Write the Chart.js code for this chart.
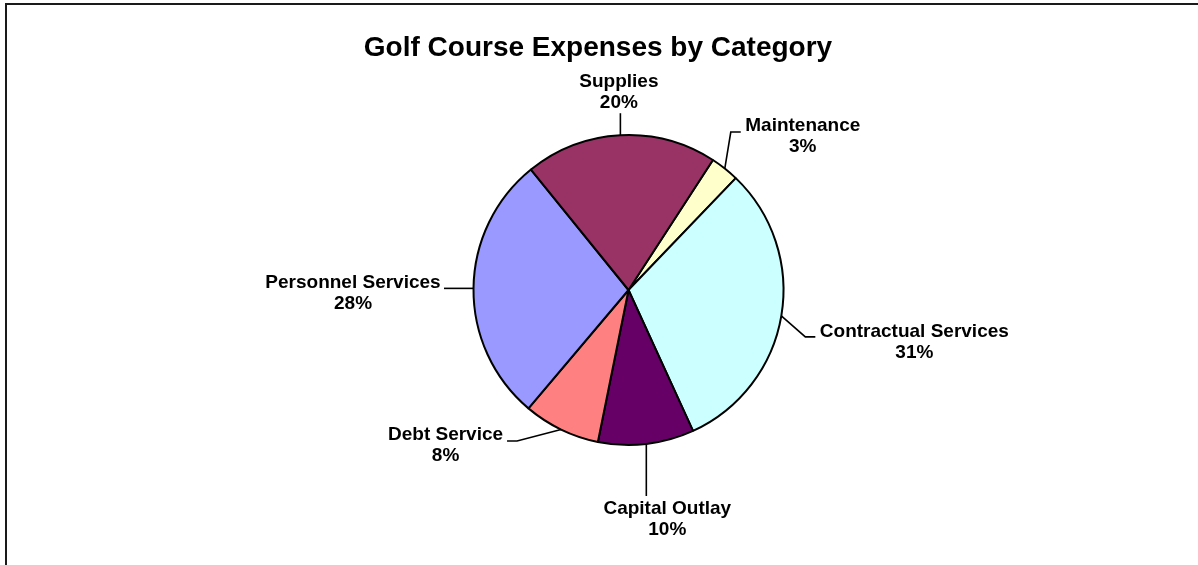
<!DOCTYPE html>
<html>
<head>
<meta charset="utf-8">
<title>Golf Course Expenses by Category</title>
<script src="https://cdn.jsdelivr.net/npm/chart.js@4"></script>
<style>
  html, body { margin: 0; padding: 0; background: #fff; }
  #wrap { position: relative; width: 1198px; height: 565px; }
</style>
</head>
<body>
<div id="wrap"><canvas id="chart"></canvas></div>
<script>
  // chart data
  const chartTitle = 'Golf Course Expenses by Category';
  const categories = ['Maintenance', 'Contractual Services', 'Capital Outlay', 'Debt Service', 'Personnel Services', 'Supplies'];
  const shares = [3, 31, 10, 8, 28, 20];

  const sliceColors = ['#FFFFCC', '#CCFFFF', '#660066', '#FF8080', '#9999FF', '#993366'];
  const FONT = "'Liberation Sans', Arial, sans-serif";

  // label placement, relative to the point where the slice's mid-angle meets the rim
  // path: leader vertices after the rim point; text: centre of the two-line label
  const labelPlacement = [
    { path: [[6, -36.5], [16, -36.5]],   text: [78, -32] },     // Maintenance
    { path: [[24, 21], [34, 21]],        text: [133, 26] },     // Contractual Services
    { path: [[0, 52]],                   text: [21, 75.5] },    // Capital Outlay
    { path: [[-44, 11.5], [-54, 11.5]],  text: [-115.5, 15.5] },// Debt Service
    { path: [[-29.5, 0]],                text: [-120.5, 5] },   // Personnel Services
    { path: [[0, -22]],                  text: [-1.5, -42.7] }  // Supplies
  ];

  // white background + the partial frame along the top and left edges
  const frame = {
    id: 'frame',
    beforeDraw(chart){
      const c = chart.ctx;
      c.save();
      c.fillStyle = '#fff';
      c.fillRect(0, 0, chart.width, chart.height);
      c.strokeStyle = '#1a1a1a';
      c.lineWidth = 2;
      c.beginPath();
      c.moveTo(6, chart.height);
      c.lineTo(6, 4);
      c.lineTo(chart.width, 4);
      c.stroke();
      c.restore();
    }
  };

  // title and outside labels with leader lines
  const outsideLabels = {
    id: 'outsideLabels',
    afterDraw(chart){
      const c = chart.ctx;
      const meta = chart.getDatasetMeta(0);
      const values = chart.data.datasets[0].data;
      const total = values.reduce((a, b) => a + b, 0);

      c.save();
      c.fillStyle = '#000';
      c.textAlign = 'center';
      c.textBaseline = 'middle';
      c.font = 'bold 28px ' + FONT;
      c.fillText(chartTitle, 598, 48);

      c.font = 'bold 19px ' + FONT;
      c.strokeStyle = '#000';
      c.lineWidth = 1.6;
      meta.data.forEach((arc, i) => {
        const mid = (arc.startAngle + arc.endAngle) / 2;
        const px = arc.x + arc.outerRadius * Math.cos(mid);
        const py = arc.y + arc.outerRadius * Math.sin(mid);
        const place = labelPlacement[i];

        c.beginPath();
        c.moveTo(px, py);
        place.path.forEach(p => c.lineTo(px + p[0], py + p[1]));
        c.stroke();

        const tx = px + place.text[0];
        const ty = py + place.text[1];
        const pct = Math.round(values[i] / total * 100) + '%';
        c.fillText(chart.data.labels[i], tx, ty - 10.5);
        c.fillText(pct, tx, ty + 10.5);
      });
      c.restore();
    }
  };

  new Chart(document.getElementById('chart'), {
    type: 'pie',
    data: {
      labels: categories,
      datasets: [{
        data: shares,
        backgroundColor: sliceColors,
        borderColor: '#000',
        borderWidth: 2
      }]
    },
    options: {
      responsive: true,
      maintainAspectRatio: false,
      animation: false,
      rotation: 33,
      radius: 155,
      layout: { padding: { left: 59, right: 0, top: 15, bottom: 0 } },
      plugins: {
        legend: { display: false },
        title: { display: false },
        tooltip: { enabled: false }
      }
    },
    plugins: [frame, outsideLabels]
  });
</script>
</body>
</html>
